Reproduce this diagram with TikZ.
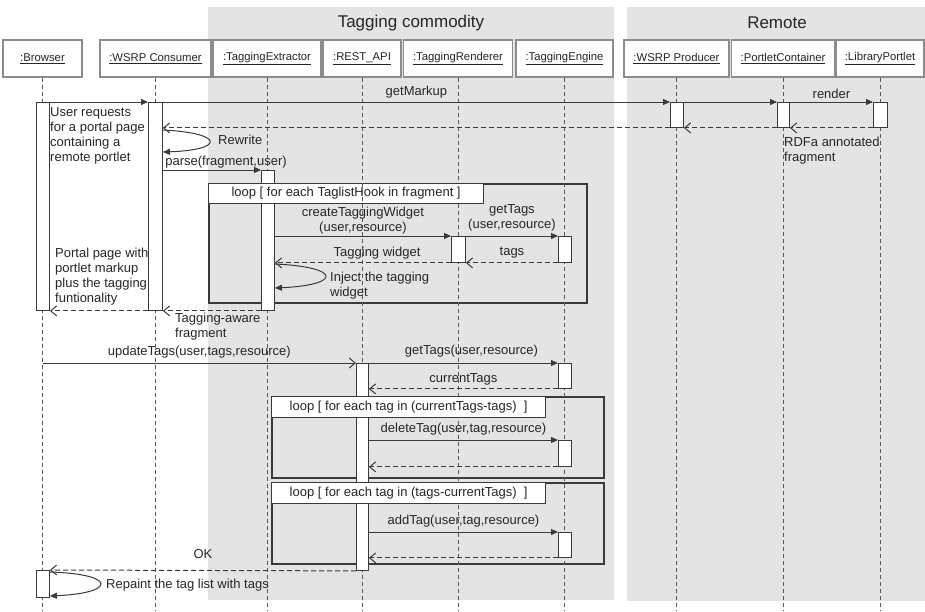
\documentclass[tikz,border=0pt]{standalone}
\usepackage{fontspec}
\setmainfont{Liberation Sans}
\usetikzlibrary{arrows.meta,calc}
\definecolor{bgray}{HTML}{E4E4E4}
\definecolor{ln}{HTML}{3A3A3A}
\definecolor{hdr}{HTML}{8C8C8C}
\definecolor{txt}{HTML}{262626}
\begin{document}
\begin{tikzpicture}[x=1pt,y=-1pt,
  every node/.style={text=txt, inner sep=0pt, font=\fontsize{13}{15}\selectfont},
  bgbox/.style={fill=bgray, draw=none, anchor=north west, inner sep=0pt},
  titletext/.style={font=\fontsize{17}{20}\selectfont},
  hdrbox/.style={draw=hdr, line width=1.4pt, fill=white, minimum height=37pt, font=\fontsize{11.3}{13}\selectfont},
  life/.style={draw=ln!85, line width=0.9pt, dash pattern=on 4pt off 3pt},
  actbox/.style={draw=ln, line width=0.9pt, fill=white, anchor=north west, minimum width=13pt},
  frame/.style={draw=ln, line width=1.6pt, anchor=north west},
  looptab/.style={draw=ln, line width=1.2pt, fill=white, anchor=north west},
  call/.style={draw=ln, line width=1pt, -{Triangle[length=7pt,width=6pt]}},
  ocall/.style={draw=ln, line width=1pt, -{Straight Barb[length=6pt,width=10pt]}},
  ret/.style={draw=ln, line width=1pt, dash pattern=on 5pt off 3pt, -{Straight Barb[length=6pt,width=10pt]}},
  note/.style={align=left, anchor=north west}
]
\useasboundingbox (0,0) rectangle (925,611);
\coordinate (bot) at (0,611);

% background regions
\node[bgbox, minimum width=406pt, minimum height=593pt] (G1) at (208,7) {};
\node[bgbox, minimum width=298pt, minimum height=594pt] (G2) at (627,7) {};
\node[titletext] (T1) at (411,23) {Tagging commodity};
\node[titletext] (T2) at (777,23) {Remote};

% lifeline heads
\node[hdrbox, minimum width=79pt]  (hB) at (42.5,58.5)  {\underline{:Browser}};
\node[hdrbox, minimum width=111pt] (hW) at (155.5,58.5) {\underline{:WSRP Consumer}};
\node[hdrbox, minimum width=108pt] (hX) at (267,58.5)   {\underline{:TaggingExtractor}};
\node[hdrbox, minimum width=78pt]  (hA) at (362,58.5)   {\underline{:REST\_API}};
\node[hdrbox, minimum width=109pt] (hR) at (458,58.5)   {\underline{:TaggingRenderer}};
\node[hdrbox, minimum width=97pt]  (hE) at (564.5,58.5) {\underline{:TaggingEngine}};
\node[hdrbox, minimum width=105pt] (hP) at (676.5,58.5) {\underline{:WSRP Producer}};
\node[hdrbox, minimum width=103pt] (hC) at (783,58.5)   {\underline{:PortletContainer}};
\node[hdrbox, minimum width=88pt]  (hL) at (880,58.5)   {\underline{:LibraryPortlet}};

% combined fragment frames
\node[frame, minimum width=378pt, minimum height=119pt] (L1) at (208,183) {};
\node[frame, minimum width=332pt, minimum height=81pt] (L2) at (271,396) {};
\node[frame, minimum width=332pt, minimum height=81pt] (L3) at (271,482) {};

% lifelines
\foreach \h in {hB,hW,hX,hA,hR,hE,hP,hC,hL}
  \draw[life] (\h.south) -- (\h.south |- bot);

% activations
\node[actbox, minimum height=208pt] (aB1) at (36,102) {};
\node[actbox, minimum width=14pt, minimum height=208pt] (aW1) at (148,102) {};
\node[actbox, minimum height=25pt] (aP1) at (670,102) {};
\node[actbox, minimum width=12pt, minimum height=25pt] (aC1) at (777,102) {};
\node[actbox, minimum width=14pt, minimum height=25pt] (aL1) at (873,102) {};
\node[actbox, minimum height=140pt] (aX1) at (261,170) {};
\node[actbox, minimum width=14pt, minimum height=26pt] (aR1) at (451,236) {};
\node[actbox, minimum height=26pt] (aE1) at (558,236) {};
\node[actbox, minimum width=12pt, minimum height=207pt] (aA1) at (356,363) {};
\node[actbox, minimum height=25pt] (aE2) at (558,363) {};
\node[actbox, minimum height=26pt] (aE3) at (558,440) {};
\node[actbox, minimum height=25pt] (aE4) at (558,532) {};
\node[actbox, minimum height=27pt] (aB2) at (36,570) {};

% loop labels (over the activations)
\node[looptab, minimum width=275pt, minimum height=20pt] (L1t) at (208,183) {loop [ for each TaglistHook in fragment ]};
\node[looptab, minimum width=274pt, minimum height=21pt] (L2t) at (271,396) {loop [ for each tag in (currentTags-tags)\ \ ]};
\node[looptab, minimum width=274pt, minimum height=21pt] (L3t) at (271,482) {loop [ for each tag in (tags-currentTags)\ \ ]};
\draw[life] (L1t.north -| hA.south) -- (L1t.south -| hA.south);

% first part
\draw[call] (aB1.north east) -- (aW1.north west);
\draw[call] (aW1.north east) -- node[above=3pt] (mGM) {getMarkup} (aP1.north west);
\draw[call] (aP1.north east) -- (aC1.north west);
\draw[call] (aC1.north east) -- node[above=3pt] (mRd) {render} (aL1.north west);
\draw[ret] (aL1.south west) -- (aC1.south east);
\draw[ret] (aC1.south west) -- (aP1.south east);
\draw[ret] (aP1.south west) -- (aP1.south west -| aW1.east);
\draw[call] (aW1.east |- 0,130) .. controls +(62,3) and +(62,-2) .. (aW1.east |- 0,152);
\node[anchor=west] (mRw) at (218,140) {Rewrite};
\node[note] (nRDF) at (784,137) {RDFa annotated\\fragment};
\node[note] (nUser) at (50,107) {User requests\\for a portal page\\containing a\\remote portlet};

\draw[call] (aW1.east |- aX1.north) -- (aX1.north west);
\node (mParse) at (226,162) {parse(fragment,user)};

\draw[call] (aX1.east |- aR1.north) -- node[above=1pt, align=center] (mCTW) {createTaggingWidget\\(user,resource)} (aR1.north west);
\draw[call] (aR1.north east) -- node[above=4pt, align=center] (mGT1) {getTags\\(user,resource)} (aE1.north west);
\draw[ret] (aE1.south west) -- node[above=4pt] (mTags) {tags} (aR1.south east);
\draw[ret] (aR1.south west) -- node[pos=0.42, above=3pt] (mTW) {Tagging widget} (aR1.south west -| aX1.east);
\draw[call] (aX1.east |- 0,264) .. controls +(67,3) and +(67,-3) .. (aX1.east |- 0,288);
\node[note] (nInj) at (330,272) {Inject the tagging\\widget};
\draw[ret] (aX1.south west) -- (aW1.south east);
\node[note] (nTA) at (175,313) {Tagging-aware\\fragment};
\draw[ret] (aW1.south west) -- (aB1.south east);
\node[note] (nPP) at (55,248) {Portal page with\\portlet markup\\plus the tagging\\funtionality};

% second part
\draw[ocall] (hB |- aA1.north) -- node[above=4pt] (mUT) {updateTags(user,tags,resource)} (aA1.north west);
\draw[call] (aA1.north east) -- node[above=5pt, xshift=8pt] (mGT2) {getTags(user,resource)} (aE2.north west);
\draw[ret] (aE2.south west) -- node[above=3pt] (mCT) {currentTags} (aE2.south west -| aA1.east);
\draw[call] (aA1.east |- aE3.north) -- node[above=4pt] (mDT) {deleteTag(user,tag,resource)} (aE3.north west);
\draw[ret] (aE3.south west) -- (aE3.south west -| aA1.east);
\draw[call] (aA1.east |- aE4.north) -- node[above=4pt] (mAT) {addTag(user,tag,resource)} (aE4.north west);
\draw[ret] (aE4.south west) -- (aE4.south west -| aA1.east);
\draw[ret] (aA1.south west) -- node[above=11pt] (mOK) {OK} (aB2.north east);
\draw[call] (aB2.east |- 0,572) .. controls +(67,2) and +(67,-3) .. (aB2.east |- 0,596);
\node[anchor=west] (mRp) at (106,585) {Repaint the tag list with tags};
\end{tikzpicture}
\end{document}
